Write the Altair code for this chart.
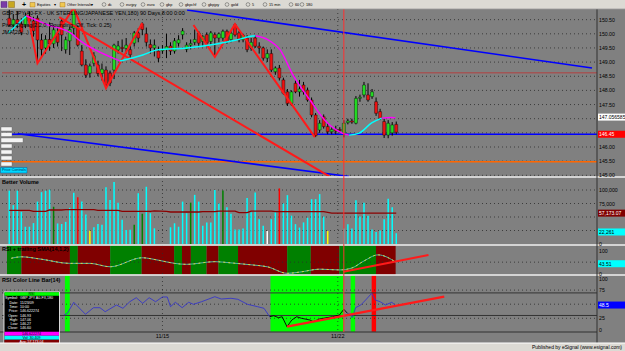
import altair as alt
import pandas as pd

FONT = "Liberation Sans"

# ---------------- data: 180-min GBP/JPY bars ----------------
bar_open = [
    150.55, 150.30, 150.50, 150.35, 150.30, 150.62, 150.45, 150.55, 149.78, 149.50,
    149.80, 149.65, 150.00, 150.45, 149.44, 149.75, 150.20, 150.20, 149.39, 148.90,
    148.61, 148.96, 148.90, 148.60, 148.72, 148.61, 148.72, 149.43, 149.52, 149.48,
    149.44, 149.67, 150.03, 150.35, 150.00, 149.62, 149.50, 149.39, 149.40, 149.45,
    149.57, 149.39, 149.67, 149.97, 149.45, 149.60, 149.70, 150.03, 149.73, 149.97,
    149.73, 149.97, 149.85, 149.85, 150.09, 149.80, 150.32, 150.03, 149.79, 149.85,
    149.50, 149.85, 149.56, 149.50, 149.14, 149.30, 148.66, 148.79, 148.37, 147.95,
    147.54, 148.25, 147.95, 148.19, 148.01, 147.66, 147.13, 146.60, 147.07, 146.72,
    146.54, 146.62, 146.62, 146.48, 146.86, 146.92, 146.84, 147.72, 147.84, 147.84,
    147.78, 147.60, 147.25, 146.90, 146.42, 146.50, 146.80]
bar_high = [
    150.85, 150.70, 150.80, 150.55, 150.75, 150.80, 150.60, 150.65, 150.00, 149.95,
    150.40, 150.30, 150.20, 150.55, 149.90, 150.25, 150.92, 150.30, 149.60, 149.10,
    148.95, 149.35, 149.05, 148.95, 148.85, 148.70, 149.65, 149.75, 149.80, 149.85,
    149.65, 150.10, 150.20, 150.40, 150.22, 149.80, 149.80, 149.55, 149.60, 150.00,
    149.70, 149.85, 149.95, 150.20, 149.70, 149.80, 150.15, 150.10, 149.95, 150.05,
    150.10, 150.05, 150.05, 150.15, 150.15, 150.10, 150.36, 150.10, 150.00, 149.95,
    149.85, 149.95, 149.70, 149.55, 149.45, 149.45, 148.85, 148.90, 148.45, 148.05,
    148.00, 148.35, 148.37, 148.30, 148.10, 147.75, 147.20, 146.95, 147.15, 146.85,
    146.70, 146.75, 146.70, 146.95, 147.00, 147.00, 147.80, 147.85, 148.30, 148.25,
    148.05, 147.75, 147.35, 147.00, 146.95, 146.88, 146.90]
bar_low = [
    150.25, 150.10, 150.20, 149.95, 150.20, 150.30, 149.90, 148.96, 149.20, 149.30,
    149.40, 149.50, 149.55, 149.39, 149.30, 149.25, 149.95, 149.55, 148.85, 148.44,
    148.45, 148.85, 148.50, 148.35, 148.08, 148.15, 148.40, 149.30, 149.35, 149.30,
    149.15, 149.55, 149.70, 149.95, 149.55, 149.30, 149.20, 149.00, 149.30, 149.14,
    149.25, 149.30, 149.55, 149.80, 149.35, 149.45, 149.60, 149.55, 149.55, 149.55,
    149.60, 149.18, 149.70, 149.75, 149.65, 149.70, 149.90, 149.70, 149.70, 149.35,
    149.40, 149.50, 149.30, 149.05, 149.00, 148.65, 148.55, 148.35, 147.85, 147.45,
    147.45, 147.90, 147.78, 147.85, 147.60, 147.05, 146.35, 146.50, 146.65, 146.45,
    146.45, 146.45, 146.50, 146.34, 146.80, 146.82, 146.80, 147.60, 147.75, 147.60,
    147.70, 147.10, 146.95, 146.32, 146.31, 146.40, 146.45]
bar_close = [
    150.30, 150.50, 150.35, 150.05, 150.62, 150.45, 150.10, 149.78, 149.45, 149.80,
    149.65, 150.14, 149.70, 149.96, 149.79, 150.15, 150.88, 149.60, 148.90, 148.54,
    148.86, 149.22, 148.60, 148.75, 148.19, 148.26, 149.60, 149.57, 149.48, 149.60,
    149.26, 150.03, 149.85, 150.15, 149.70, 149.50, 149.60, 149.14, 149.44, 149.55,
    149.39, 149.75, 149.79, 150.10, 149.60, 149.66, 149.80, 149.67, 149.91, 149.67,
    150.03, 149.85, 150.00, 150.09, 149.73, 150.02, 149.96, 149.79, 149.95, 149.44,
    149.70, 149.56, 149.50, 149.14, 149.30, 148.72, 148.79, 148.44, 147.90, 147.54,
    147.95, 147.95, 148.05, 147.95, 147.66, 147.13, 146.40, 146.84, 146.72, 146.54,
    146.62, 146.56, 146.58, 146.84, 146.92, 146.88, 147.72, 147.76, 148.19, 147.66,
    147.95, 147.19, 147.01, 146.42, 146.84, 146.78, 146.52]

# Better Volume (thousands)
volume_k = [
    98.8, 72, 98.8, 59.5, 32, 32, 38.7, 78.5, 96, 98.8,
    100.6, 69, 38, 37, 41, 67, 95, 86.7, 78.5, 54.5,
    24.7, 31, 37, 35.5, 105, 81.6, 115, 76.6, 45, 26,
    26.5, 35.5, 94, 56, 106, 57, 29, 0, 0, 0,
    31, 38.4, 32, 78.5, 57, 76.6, 91, 78.5, 33.6, 40,
    40, 100, 75, 99, 68, 56, 27, 27, 28.6, 85,
    59, 95.6, 46, 33.6, 24, 46, 59, 103, 75, 90.5,
    52.5, 36.8, 30.4, 40, 48.6, 83, 83, 92.4, 50.7, 24,
    0, 0, 0, 28.5, 36.8, 28.5, 81, 50.7, 76.6, 52.5,
    27, 22, 25, 46, 84, 68, 20]
volume_special = {11: "#008000", 17: "#ff0000", 20: "#ffff00", 31: "#008000", 33: "#008000",
                  45: "#008000", 53: "#008000", 64: "#ffffff", 67: "#ff0000", 79: "#ffff00"}
vol_ma_idx = [0, 5, 6, 9, 10, 13, 14, 21, 22, 27, 28, 35, 36, 39, 40, 47, 48, 51, 52, 56,
              57, 59, 60, 65, 66, 78, 80, 96]
vol_ma_val = [62.4, 62.4, 60.5, 60.5, 63, 63, 63.6, 63.6, 62.4, 62.4, 60.5, 60.5, 61.5, 60.5,
              59.3, 59.3, 59.9, 59.9, 61, 61, 58, 58, 61, 61, 59.9, 59.9, 57.2, 57.2]

# JMA (segments: cyan rising / magenta falling)
jma_idx = [-0.24, 4.2, 4.2, 9.5, 15.2, 17.7, 25.8, 27.5, 27.5, 33.1, 36.8, 44.1, 51.4, 56.3,
           60.4, 61.1, 61.1, 64.3, 67.2, 70.4, 74.6, 78.7, 82.6, 84.3, 84.3, 86.8, 89.9, 92.4,
           92.4, 94.8, 95.8]
jma_val = [150.03, 150.63, 150.63, 150.32, 150.03, 149.74, 149.14, 149.04, 149.04, 149.25,
           149.43, 149.50, 149.64, 149.78, 149.92, 149.93, 149.93, 149.78, 149.43, 148.54,
           147.66, 146.88, 146.49, 146.42, 146.42, 146.49, 146.85, 147.02, 147.02, 147.04, 147.03]
jma_seg = [0, 0, 1, 1, 1, 1, 1, 1, 2, 2, 2, 2, 2, 2, 2, 2, 3, 3, 3, 3, 3, 3, 3, 3, 4, 4, 4, 4, 5, 5, 5]
jma_seg_color = ["#00ffff", "#ff00ff", "#00ffff", "#ff00ff", "#00ffff", "#ff00ff"]

# Pivot zigzag
zz_idx = [4.6, 7.0, 16.0, 24.0, 33.0, 45.7, 51.0, 56.0, 75.8]
zz_val = [150.66, 148.96, 150.92, 148.08, 150.38, 150.31, 149.18, 150.34, 146.35]
zz_seg = [0, 0, 0, 0, 0, 1, 1, 1, 1]

# Trend lines (price)
blue_trend_a = ([44.1, 144.56], [150.84, 148.79])
blue_trend_b = ([2.1, 84.3], [146.47, 144.96])
red_trend = ([12.4, 79.4], [150.59, 144.96])
level_prices = [146.45, 145.48, 148.62]
level_colors = ["#0000ff", "#ff6600", "#c03030"]
level_widths = [1.4, 1.4, 0.8]
marker_bar = 83

# RSI + trailing SMA panel
rsi_band_start = [-0.56, 3.02, 15.05, 17.0, 25.05, 32.85, 40.9, 42.85, 45.05, 48.95, 51.9,
                  56.75, 68.95, 74.8, 81.9, 90.98]
rsi_band_end = [3.02, 15.05, 17.0, 25.05, 32.85, 40.9, 42.85, 45.05, 48.95, 51.9, 56.75,
                68.95, 74.8, 81.9, 90.98, 95.85]
rsi_band_state = ["up", "dn"] * 8
rsi_idx = [0.5, 3, 8, 15, 20, 25, 33, 37, 41, 44, 51, 55, 60, 64, 69, 72, 77, 82, 85, 88, 91.5, 96]
rsi_val = [66, 72, 62, 45, 45, 31, 68, 58, 45, 41, 52, 47, 39, 31, 4, 9, 21, 18, 26, 55, 80, 49]
rsi_trend = ([82.9, 104.0], [10.7, 79.4])

# RSI Color Line Bar panel
clb_idx = [13.6, 14.4, 16, 18.9, 20.9, 22.5, 23.8, 26.6, 28.2, 29.9, 31.5, 33.1, 34.7, 36.3, 38,
           39.2, 40, 41.2, 42.9, 44.5, 45.7, 47.7, 51, 52.6, 55, 56.7, 59.1, 61.6, 63.2, 64.6,
           64.6, 65.6, 66.8, 67.7, 68.9, 70.1, 71.3, 72.5, 74.6, 75.4, 77, 80.2, 81.9, 83, 83.9,
           83.9, 84.8, 85.1, 85.9, 87.2, 88.4, 89.9, 90.8, 92, 93.3, 94.9, 95.7]
clb_val = [30.9, 33.8, 53.4, 32.1, 43.8, 43.8, 36.7, 48.6, 42.7, 54.4, 61.5, 51.6, 61.5, 54.4,
           62.8, 62.8, 45.6, 53.4, 43.8, 53.4, 49.8, 54.4, 63.3, 59.2, 60.5, 58.7, 49.8, 45.6,
           42.7, 27.8,
           27.8, 29.6, 26.1, 27.8, 10.1, 22, 27.8, 25, 22, 19, 23.8, 27.8, 30.8, 41, 33.8,
           33.8, 30.9, 26.1, 43.8, 48.6, 57.4, 69.3, 57.4, 54.4, 48.6, 53.4, 48.6]
clb_seg = [0] * 30 + [1] * 15 + [2] * 12
clb_seg_color = ["#3535c8", "#000000", "#3535c8"]
clb_trend = ([68.9, 107.9], [10.1, 63.3])
clb_band_start = [13.8, 64.8, 84.7, 89.9]
clb_band_end = [15.0, 82.9, 85.8, 91.0]
clb_band_color = ["#00ff00", "#00ff00", "#00ff00", "#ff0000"]

# axes / labels (labels hidden behind value badges in the reference are left out)
price_ticks = [145.0, 145.5, 146.0, 146.5, 147.0, 147.5, 148.0, 148.5, 149.0, 149.5, 150.0, 150.5]
price_label_ticks = [145.0, 145.5, 146.0, 147.5, 148.0, 148.5, 149.0, 149.5, 150.0, 150.5]
vol_ticks = [100, 75, 50, 25]
vol_tick_labels = ["100,000", "75,000", "0"]
vol_label_vals = [100, 75, 0]
clb_levels = [70, 30]
clb_dots = [75, 50, 25]
date_ticks = [38, 81.5]
date_labels = ["11/15", "11/22"]

price_badge = ([147.056585, 146.45], ["147.056585", "146.45"], ["#ffffff", "#ff0000"], ["#000000", "#ffffff"])
vol_badge = ([57.173, 22.261], ["57,173.07", "22,261"], ["#800000", "#00ffff"], ["#ffffff", "#000000"])
rsi_badge = ([43.51], ["43.51"], ["#00ffff"], ["#000000"])
clb_badge = ([48.5], ["48.5"], ["#0000ff"], ["#ffffff"])

toolbar_menus = [(30, "Equities", 54), (60, "Other Intervals", 91)]
toolbar_links = [(104, "dc"), (122, "eurjpy"), (143, "euro"), (162, "gbp"), (181, "gbpchf"),
                 (204, "gbpjpy"), (227, "gold"), (248, "5"), (265, "15 min"), (291, "60"), (302, "180")]
price_titles = ["GBP JPY A0-FX - UK STERLING/JAPANESE YEN,180) 90 Days,8:00 0:00",
                "Pivot Zigzag(2,2,0, Rounding: Off, Tick: 0.25)", "JMA(20,...)"]
datasheet_rows = [("Symbol:", "GBP JPY A0-FX,180"), ("Date:", "11/23/09"), ("Time:", "10:00"),
                  ("Price:", "146.622274"), ("Open:", "146.93"), ("High:", "147.06"),
                  ("Low:", "146.27"), ("Close:", "146.60")]
datasheet_footer = [("146.622274", "#ff00ff", "#000000"), ("Vol: 30,409", "#00ffff", "#000000"),
                    ("Avg: 57,173.04", "#800000", "#ffffff")]

# ---------------- scales ----------------
X = alt.Scale(domain=[-0.56, 144.56], range=[2, 597])
PRICE = alt.Scale(domain=[145.0, 150.5], range=[175.3, 19.65])
VOL = alt.Scale(domain=[0, 100], range=[244, 190])
RSI = alt.Scale(domain=[0, 100], range=[274.3, 250])
CLB = alt.Scale(domain=[0, 100], range=[332.4, 276])

one = pd.DataFrame({"k": [0]})


def xq(f="i"):
    return alt.X(f + ":Q", scale=X, axis=None)


def yq(f, sc):
    return alt.Y(f + ":Q", scale=sc, axis=None)


def px_rect(x1, x2, y1, y2, fill, stroke=None, sw=0.5):
    kw = {"fill": fill}
    if stroke:
        kw.update(stroke=stroke, strokeWidth=sw)
    return alt.Chart(one).mark_rect(**kw).encode(
        x=alt.value(x1), x2=alt.value(x2), y=alt.value(y1), y2=alt.value(y2))


def px_rule(x1, x2, y1, y2, color, sw=1.0, dash=None):
    kw = {"color": color, "strokeWidth": sw}
    if dash:
        kw["strokeDash"] = dash
    return alt.Chart(one).mark_rule(**kw).encode(
        x=alt.value(x1), x2=alt.value(x2), y=alt.value(y1), y2=alt.value(y2))


def px_text(x, y, s, size=5.2, color="#000000", align="left", weight="normal"):
    return alt.Chart(one).mark_text(text=s, fontSize=size, color=color, align=align,
                                    baseline="middle", fontWeight=weight, font=FONT).encode(
        x=alt.value(x), y=alt.value(y))


def hlines(vals, sc, color, sw, dash=None, x1=2, x2=597):
    kw = {"color": color, "strokeWidth": sw}
    if dash:
        kw["strokeDash"] = dash
    return alt.Chart(pd.DataFrame({"v": vals})).mark_rule(**kw).encode(
        x=alt.value(x1), x2=alt.value(x2), y=yq("v", sc))


def seg_line(idx, val, sc, color, sw, interp="linear"):
    d = pd.DataFrame({"i": idx, "v": val})
    return alt.Chart(d).mark_line(color=color, strokeWidth=sw, interpolate=interp).encode(
        x=xq(), y=yq("v", sc))


def axis_labels(vals, texts, sc):
    d = pd.DataFrame({"v": vals, "t": texts})
    return alt.Chart(d).mark_text(align="left", baseline="middle", fontSize=5.2, font=FONT,
                                  color="#000000").encode(
        x=alt.value(599), y=yq("v", sc), text="t:N")


def badges(spec, sc):
    vals, texts, bgs, fgs = spec
    d = pd.DataFrame({"v": vals, "t": texts, "bg": bgs, "fg": fgs})
    bg = alt.Chart(d).mark_rule(strokeWidth=7).encode(
        x=alt.value(598), x2=alt.value(625), y=yq("v", sc), color=alt.Color("bg:N", scale=None))
    tx = alt.Chart(d).mark_text(align="left", baseline="middle", fontSize=5.0, font=FONT).encode(
        x=alt.value(599), y=yq("v", sc), text="t:N", color=alt.Color("fg:N", scale=None))
    return [bg, tx]


layers = []

# ---- backgrounds of sub panels ----
bands = pd.DataFrame({"s": rsi_band_start, "e": rsi_band_end,
                      "c": ["#008000" if st == "up" else "#800000" for st in rsi_band_state]})
layers.append(alt.Chart(bands).mark_rect().encode(
    x=xq("s"), x2=alt.X2("e:Q"), y=alt.value(245.5), y2=alt.value(274.6),
    color=alt.Color("c:N", scale=None)))
cb = pd.DataFrame({"s": clb_band_start, "e": clb_band_end, "c": clb_band_color})
layers.append(alt.Chart(cb).mark_rect().encode(
    x=xq("s"), x2=alt.X2("e:Q"), y=alt.value(275.5), y2=alt.value(331.8),
    color=alt.Color("c:N", scale=None)))

# ---- grids ----
DOT = [1, 3]
layers.append(hlines(price_ticks, PRICE, "#2b2b2b", 0.8, DOT))
layers.append(hlines(vol_ticks, VOL, "#2b2b2b", 0.8, DOT))
layers.append(hlines([50], RSI, "#2b2b2b", 0.8, DOT))
layers.append(hlines(clb_dots, CLB, "#2b2b2b", 0.8, DOT))
layers.append(hlines(clb_levels, CLB, "#333333", 1.0))
dt = pd.DataFrame({"i": date_ticks, "t": date_labels})
layers.append(alt.Chart(dt).mark_rule(color="#2b2b2b", strokeWidth=0.8, strokeDash=DOT).encode(
    x=xq(), y=alt.value(9), y2=alt.value(332)))

# ---- price levels ----
for v, c, w in zip(level_prices, level_colors, level_widths):
    layers.append(hlines([v], PRICE, c, w))

# ---- candles ----
df = pd.DataFrame({"i": list(range(len(bar_open))), "o": bar_open, "h": bar_high,
                   "l": bar_low, "c": bar_close, "vol": volume_k})
df["col"] = ["#22dd22" if c >= o else "#ee1111" for o, c in zip(bar_open, bar_close)]
df["vcol"] = [volume_special.get(k, "#00ffff") for k in range(len(volume_k))]
layers.append(alt.Chart(df).mark_rule(color="#000000", strokeWidth=1).encode(
    x=xq(), y=yq("l", PRICE), y2=alt.Y2("h:Q")))
layers.append(alt.Chart(df).mark_bar(size=3, stroke="#000000", strokeWidth=0.4).encode(
    x=xq(), y=yq("o", PRICE), y2=alt.Y2("c:Q"), color=alt.Color("col:N", scale=None)))

# ---- trend lines ----
layers.append(seg_line(*blue_trend_a, PRICE, "#0000ff", 1.6))
layers.append(seg_line(*blue_trend_b, PRICE, "#0000ff", 1.6))
layers.append(seg_line(*red_trend, PRICE, "#ff1a1a", 2.0))

# ---- zigzag ----
zz = pd.DataFrame({"i": zz_idx, "v": zz_val, "s": zz_seg})
layers.append(alt.Chart(zz).mark_line(color="#ff1a1a", strokeWidth=2.0).encode(
    x=xq(), y=yq("v", PRICE), detail="s:N"))

# ---- JMA ----
jm = pd.DataFrame({"i": jma_idx, "v": jma_val, "s": jma_seg,
                   "c": [jma_seg_color[s] for s in jma_seg]})
layers.append(alt.Chart(jm).mark_line(strokeWidth=1.4, interpolate="monotone").encode(
    x=xq(), y=yq("v", PRICE), detail="s:N", color=alt.Color("c:N", scale=None)))

# ---- volume ----
layers.append(alt.Chart(df).mark_bar(size=1.5).encode(
    x=xq(), y=yq("vol", VOL), color=alt.Color("vcol:N", scale=None)))
layers.append(seg_line(vol_ma_idx, vol_ma_val, VOL, "#8b0000", 1.3))

# ---- RSI panel ----
layers.append(seg_line(rsi_idx, rsi_val, RSI, "#49b7b0", 1.0, "monotone"))
rs = pd.DataFrame({"i": rsi_idx, "v": rsi_val})
layers.append(alt.Chart(rs).mark_line(color="#e0d040", strokeWidth=1.0, strokeDash=[2, 3],
                                      interpolate="monotone").encode(x=xq(), y=yq("v", RSI)))
layers.append(seg_line(*rsi_trend, RSI, "#ff1a1a", 2.0))

# ---- RSI color line bar ----
cl = pd.DataFrame({"i": clb_idx, "v": clb_val, "s": clb_seg,
                   "c": [clb_seg_color[s] for s in clb_seg]})
layers.append(alt.Chart(cl).mark_line(strokeWidth=0.9).encode(
    x=xq(), y=yq("v", CLB), detail="s:N", color=alt.Color("c:N", scale=None)))
layers.append(seg_line(*clb_trend, CLB, "#ff1a1a", 2.2))

# ---- separators, axis line, marker ----
for yy in (177, 245, 275):
    layers.append(px_rule(0, 625, yy, yy, "#f0f0f0", 1.4))
layers.append(px_rule(0, 597, 332, 332, "#303030", 1.0))
layers.append(px_rule(597, 597, 9, 343, "#303030", 1.0))
layers.append(alt.Chart(pd.DataFrame({"i": [marker_bar]})).mark_rule(
    color="#ff3030", strokeWidth=1.0).encode(x=xq(), y=alt.value(9), y2=alt.value(332)))

# ---- right axis labels ----
layers.append(axis_labels(price_label_ticks, [f"{p:.2f}" for p in price_label_ticks], PRICE))
layers.append(axis_labels(vol_label_vals, vol_tick_labels, VOL))
layers.append(axis_labels([96], ["100"], RSI))
layers.append(axis_labels([2], ["0"], RSI))
layers.append(axis_labels([94, 75, 25, 5], ["100", "75", "25", "0"], CLB))
for spec, sc in ((price_badge, PRICE), (vol_badge, VOL), (rsi_badge, RSI), (clb_badge, CLB)):
    layers += badges(spec, sc)

# ---- x axis labels ----
layers.append(alt.Chart(dt).mark_text(fontSize=5.5, font=FONT, color="#000000",
                                      baseline="middle").encode(
    x=xq(), y=alt.value(336), text="t:N"))

# ---- panel titles ----
for yy, t in zip((12.7, 25, 31.5), price_titles):
    layers.append(px_text(2, yy, t, 5.5))
layers.append(px_text(2, 182, "Better Volume", 5.5, weight="bold"))
layers.append(px_text(2, 249, "RSI + trailing SMA(14,1,2)", 5.5, weight="bold"))
layers.append(px_text(2, 280, "RSI Color Line Bar(14)", 5.5, weight="bold"))

# ---- left price-panel buttons ----
for (y1, y2, w) in ((127, 131, 12), (132.5, 136.5, 12), (138, 142.5, 23), (144, 148, 12),
                    (150, 154, 12), (156, 160, 12), (162, 166, 12)):
    layers.append(px_rect(1, w, y1, y2, "#f4f4f4", "#606060", 0.4))
layers.append(px_rect(0.5, 27, 167.5, 173, "#00d8ff", "#0060a0", 0.5))
layers.append(px_text(2, 170.3, "Price Controls", 3.8, "#003060"))

# ---- datasheet box ----
layers.append(px_rect(4, 59.5, 292, 343.5, "#000000", "#ffffff", 0.8))
layers.append(px_rect(4.5, 59, 292.3, 295.8, "#00ff00"))
layers.append(px_text(31.5, 294, "RSI", 3.6, align="center"))
for k, (lab, val) in enumerate(datasheet_rows):
    yy = 298.3 + k * 4.3
    layers.append(px_text(18, yy, lab, 3.6, "#ffffff", align="right"))
    layers.append(px_text(20, yy, val, 3.6, "#ffffff"))
for k, (t, bg, fg) in enumerate(datasheet_footer):
    y1 = 331.8 + k * 4.0
    layers.append(px_rect(4.5, 59, y1, y1 + 3.9, bg))
    layers.append(px_text(31.5, y1 + 2, t, 3.6, fg, align="center"))

# ---- toolbar ----
TB = 3.8
layers.append(px_rect(0, 625, 0, 9, "#dcdad4"))
layers.append(px_rule(0, 625, 9, 9, "#9a9a9a", 0.8))
layers.append(px_rect(1, 7, 1.5, 7.5, "#7a3aa8", "#402060", 0.4))
layers.append(px_rect(8.5, 14.5, 1.5, 7.5, "#c8a820", "#705010", 0.4))
layers.append(px_text(22, 4.8, "+", 7, weight="bold"))
for x0, label, arrow in toolbar_menus:
    layers.append(px_rect(x0, x0 + 5, 2.5, 7, "#f0c850", "#906010", 0.4))
    layers.append(px_text(x0 + 7, 4.8, label, TB))
    layers.append(px_text(arrow, 4.8, "\u25be", TB))
for x0, label in toolbar_links:
    layers.append(alt.Chart(one).mark_point(shape="circle", filled=False, size=14, color="#333333",
                                            strokeWidth=0.6).encode(x=alt.value(x0), y=alt.value(4.5)))
    layers.append(px_text(x0 + 4, 4.8, label, TB))

# ---- status bar ----
layers.append(px_rect(0, 625, 343, 351, "#dcdad4"))
layers.append(px_rule(0, 625, 343, 343, "#ffffff", 1.0))
layers.append(px_text(622, 347.3, "Published by eSignal (www.esignal.com)", 5.0, align="right"))

chart = alt.layer(*layers).properties(
    width=625, height=351, background="#808080", padding=0,
    autosize=alt.AutoSizeParams(type="none"),
).resolve_scale(y="independent").configure_view(stroke=None)

chart.save("out.html", embed_options={"renderer": "svg", "actions": False})
